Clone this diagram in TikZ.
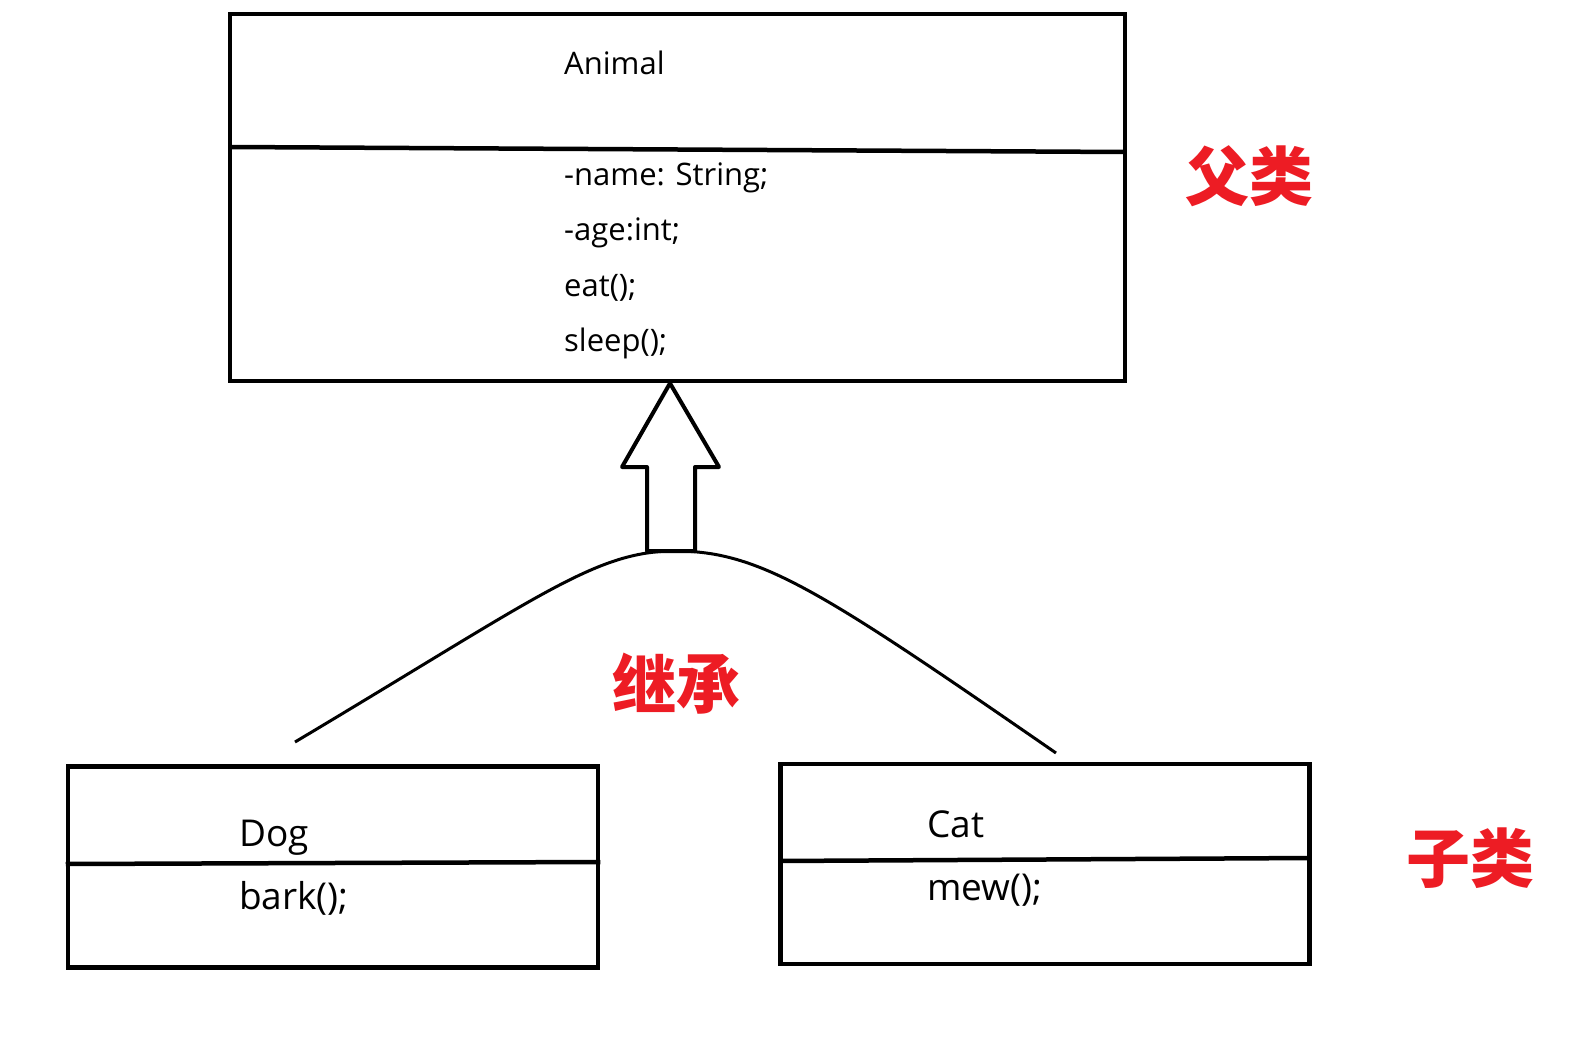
\documentclass[tikz,border=0pt]{standalone}
\usepackage{fontspec}
\setmainfont{Open Sans}
\newfontfamily\cjk{Noto Sans CJK SC}
\definecolor{tagred}{RGB}{237,28,36}
\tikzset{
  cls/.style={draw, line width=4.5pt, inner sep=0pt},
  member/.style={anchor=west, inner sep=0pt, font=\fontsize{31}{31}\selectfont},
  sub/.style={member, font=\fontsize{37}{37}\selectfont},
  tag/.style={text=tagred, font=\cjk\bfseries\fontsize{64}{64}\selectfont}
}
\begin{document}
\begin{tikzpicture}[x=1pt,y=-1pt]
  \useasboundingbox (0,0) rectangle (1577,1038);
  % parent class
  \node[cls, minimum width=895pt, minimum height=367pt] (animal) at (677.5,197.5) {};
  \draw[line width=4.5pt] (230,147) -- (1125,152);
  \node[member] (animalname) at (564,63) {Animal};
  \node[member] (name) at (564,178) {-name: String;};
  \node[member] (age) at (564,233) {-age:int;};
  \node[member] (eat) at (564,288) {eat();};
  \node[member] (sleep) at (564,343) {sleep();};
  \node[tag] (parent) at (1249,176) {父类};
  % child classes
  \node[cls, minimum width=530pt, minimum height=201pt] (dog) at (333,867) {};
  \draw[line width=4.5pt] (dog.west |- 0,864) -- (dog.east |- 0,862);
  \node[sub] (dogname) at (239,838) {Dog};
  \node[sub] (bark) at (239,898) {bark();};
  \node[cls, minimum width=529pt, minimum height=200pt] (cat) at (1045,864) {};
  \draw[line width=4.5pt] (cat.west |- 0,861) -- (cat.east |- 0,858);
  \node[sub] (catname) at (927,824) {Cat};
  \node[sub] (mew) at (927,890) {mew();};
  \node[tag] (child) at (1470,858) {子类};
  % inheritance
  \coordinate (dogend) at (295,742);
  \coordinate (top) at (675,551);
  \coordinate (catend) at (1056,753);
  \draw[line width=3pt]
	(dogend) .. controls (540,596) and (595,551) .. (top)
	.. controls (760,551) and (820,590) .. (catend);
  \draw[line width=4pt, line join=round]
	(animal.south -| 670,0) -- (719,467) -- (695,467) -- (695,551)
	-- (647,551) -- (647,467) -- (622,467) -- cycle;
  \node[tag] (inherit) at (676,684) {继承};
\end{tikzpicture}
\end{document}
